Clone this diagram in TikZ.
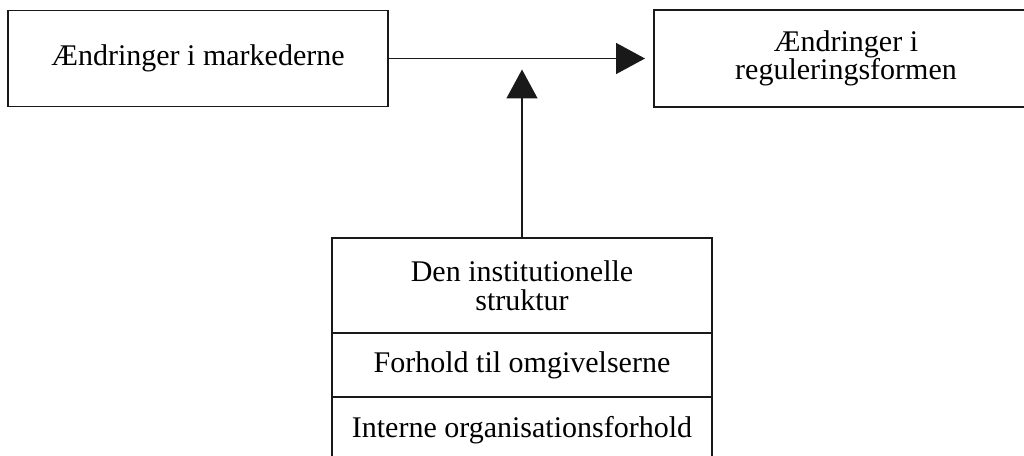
\documentclass[tikz,border=0pt]{standalone}
\usepackage{fontspec}
\setmainfont{Liberation Serif}
\usepackage{tikz}
\usetikzlibrary{arrows.meta,positioning}
\tikzset{
  diag-box/.style={draw=black!90, line width=1.6pt, minimum height=96pt, inner sep=0pt, outer sep=0pt,
    align=center, font=\fontsize{30}{28.5}\selectfont},
  diag-cell/.style={diag-box, minimum width=380pt},
  diag-link/.style={->, draw=black!90, line width=1.5pt}
}

\begin{document}
\begin{tikzpicture}[>={Triangle[length=29pt, width=31pt]}, x=1pt, y=1pt]
  % Frame (the scan cuts off the right box and the bottom box)
  \clip (0,0) rectangle (1024,455);

  % Top row
  \node[diag-box, minimum width=380pt] (markets) at (198,396.5) {Ændringer i markederne};
  \node[diag-box, minimum width=384pt, minimum height=97pt] (regulation) at (846,396.5) {Ændringer i\\reguleringsformen};

  % Institutional structure (stacked cells)
  \node[diag-cell, minimum height=95pt, anchor=north] (structure) at (522,217) {Den institutionelle\\struktur};
  \node[diag-cell, minimum height=64pt, below=0pt of structure] (environment) {Forhold til omgivelserne};
  \node[diag-cell, minimum height=66pt, below=0pt of environment] (internal) {Interne organisationsforhold};

  % Connectors
  \coordinate (junction) at (structure.north |- markets.east);
  \draw[diag-link, shorten >=9pt] (markets) -- (regulation);
  \draw[diag-link, shorten >=11pt] (structure) -- (junction);
\end{tikzpicture}
\end{document}
